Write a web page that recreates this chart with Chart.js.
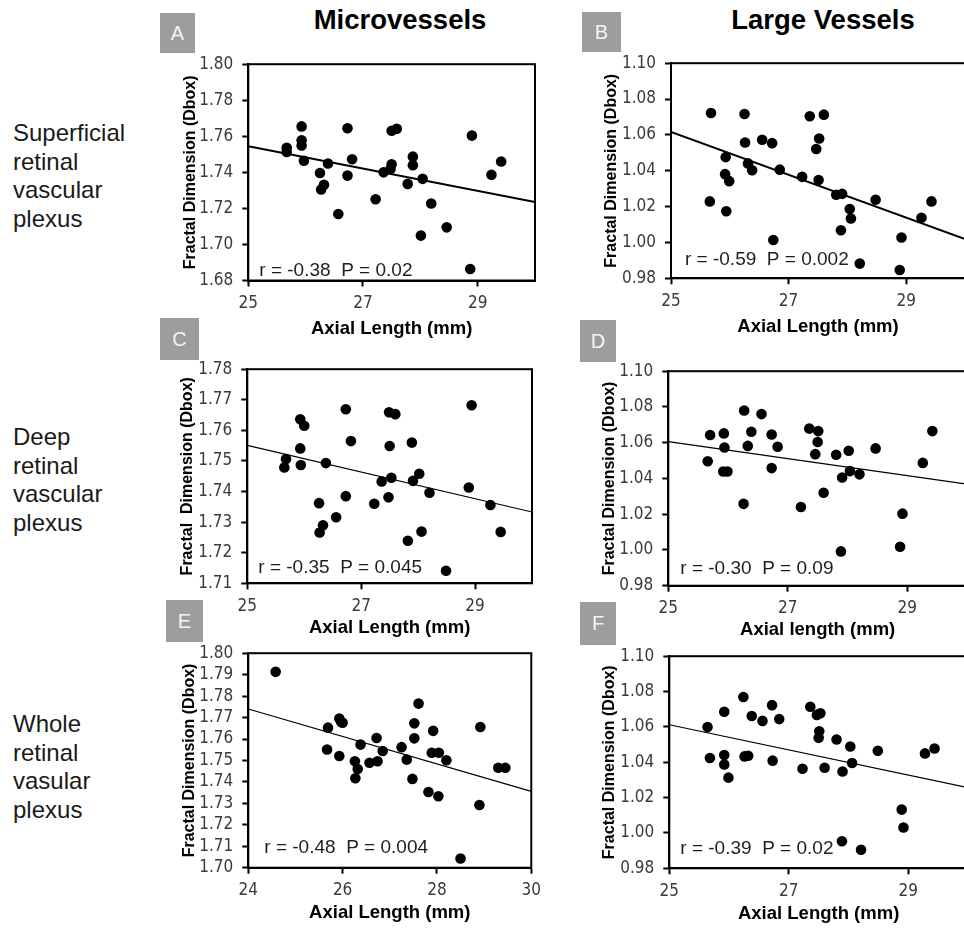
<!DOCTYPE html>
<html><head><meta charset="utf-8">
<script src="https://cdn.jsdelivr.net/npm/chart.js@4.4.0/dist/chart.umd.min.js"></script>
<style>
html,body{margin:0;padding:0;background:#fff;overflow:hidden;width:964px;height:929px;}
body{position:relative;font-family:'Liberation Sans',Arial,sans-serif;}
canvas{position:absolute;}
.rowlab{position:absolute;left:13px;font-size:24px;line-height:28.5px;color:#1a1a1a;white-space:nowrap;}
.coltitle{position:absolute;top:6px;font-weight:bold;font-size:27.5px;line-height:27.5px;color:#000;transform:translateX(-50%);white-space:nowrap;}
.letter{position:absolute;background:#9d9d9d;color:#f4f4f4;font-size:20px;text-align:center;font-family:'Liberation Sans Narrow','Liberation Sans',Arial,sans-serif;}
</style>
</head>
<body>
<div class="coltitle" style="left:400px">Microvessels</div>
<div class="coltitle" style="left:823px">Large Vessels</div>
<div class="rowlab" style="top:119px">Superficial<br>retinal<br>vascular<br>plexus</div>
<div class="rowlab" style="top:423px">Deep<br>retinal<br>vascular<br>plexus</div>
<div class="rowlab" style="top:710px">Whole<br>retinal<br>vasular<br>plexus</div>
<div class="letter" style="left:160px;top:13px;width:35px;height:40px;line-height:40px">A</div>
<div class="letter" style="left:582px;top:12px;width:39px;height:40px;line-height:40px">B</div>
<div class="letter" style="left:160px;top:318px;width:39px;height:42px;line-height:42px">C</div>
<div class="letter" style="left:580px;top:320px;width:36px;height:42px;line-height:42px">D</div>
<div class="letter" style="left:166px;top:600px;width:37px;height:42px;line-height:42px">E</div>
<div class="letter" style="left:580px;top:602px;width:36px;height:43px;line-height:43px">F</div>
<canvas id="cA"></canvas><canvas id="cB"></canvas>
<canvas id="cC"></canvas><canvas id="cD"></canvas>
<canvas id="cE"></canvas><canvas id="cF"></canvas>
<script>
// ---------- DATA ----------
const xA = [25.67,25.67,25.93,25.93,25.93,25.97,26.25,26.27,26.32,26.39,26.57,26.73,26.73,26.81,27.22,27.36,27.50,27.48,27.50,27.59,27.78,27.87,27.87,28.04,28.01,28.19,28.46,28.90,28.87,29.24,29.41];
const yA = [1.7536,1.7513,1.7655,1.7578,1.7549,1.7464,1.7396,1.7305,1.7331,1.7449,1.7169,1.7645,1.7382,1.7473,1.7251,1.7400,1.7445,1.7418,1.7631,1.7642,1.7336,1.7487,1.7440,1.7364,1.7049,1.7227,1.7095,1.7604,1.6864,1.7387,1.7460];
const xB = [25.68,25.66,25.93,25.92,25.99,25.94,26.25,26.26,26.31,26.38,26.55,26.72,26.74,26.85,27.23,27.36,27.60,27.52,27.47,27.51,27.81,27.91,28.04,28.06,27.89,28.21,28.48,28.92,28.89,29.26,29.43];
const yB = [1.0722,1.0229,1.0476,1.0381,1.0342,1.0174,1.0717,1.0558,1.0441,1.0403,1.0573,1.0554,1.0014,1.0406,1.0366,1.0704,1.0713,1.0580,1.0521,1.0348,1.0266,1.0271,1.0187,1.0134,1.0068,0.9882,1.0238,1.0028,0.9846,1.0138,1.0229];
const xC = [25.65,25.68,25.93,26.00,25.93,25.94,26.26,26.27,26.33,26.38,26.56,26.73,26.73,26.82,27.23,27.36,27.49,27.60,27.50,27.53,27.48,27.82,27.89,27.91,28.02,28.06,28.20,28.49,28.89,28.94,29.27,29.45];
const yC = [1.7479,1.7506,1.7636,1.7615,1.7541,1.7487,1.7362,1.7266,1.7290,1.7493,1.7316,1.7669,1.7385,1.7565,1.7360,1.7433,1.7659,1.7653,1.7549,1.7445,1.7381,1.7239,1.7560,1.7435,1.7458,1.7269,1.7396,1.7141,1.7413,1.7682,1.7356,1.7268];
const xD = [25.66,25.70,25.93,25.94,25.92,25.99,26.27,26.33,26.39,26.26,26.56,26.73,26.73,26.83,27.22,27.36,27.51,27.50,27.46,27.60,27.81,27.91,27.89,28.02,28.04,28.20,28.47,28.92,28.88,29.26,29.42];
const yD = [1.0496,1.0643,1.0652,1.0573,1.0439,1.0439,1.0780,1.0582,1.0661,1.0258,1.0760,1.0646,1.0458,1.0577,1.0240,1.0679,1.0665,1.0604,1.0536,1.0320,1.0533,1.0405,0.9992,1.0555,1.0441,1.0423,1.0568,1.0203,1.0018,1.0487,1.0665];
const xE = [24.58,25.69,25.67,25.93,25.97,26.00,25.93,26.38,26.26,26.32,26.27,26.57,26.74,26.72,26.85,27.25,27.36,27.48,27.52,27.52,27.61,27.82,27.92,27.89,28.04,28.03,28.20,28.50,28.90,28.92,29.30,29.45];
const yE = [1.7913,1.7653,1.7551,1.7695,1.7679,1.7676,1.7521,1.7574,1.7496,1.7460,1.7417,1.7489,1.7496,1.7605,1.7544,1.7562,1.7504,1.7414,1.7673,1.7603,1.7765,1.7353,1.7638,1.7536,1.7536,1.7333,1.7501,1.7043,1.7292,1.7656,1.7466,1.7466];
const xF = [25.64,25.68,25.92,25.92,25.92,25.99,26.24,26.26,26.32,26.38,26.56,26.72,26.73,26.84,27.23,27.36,27.47,27.53,27.51,27.50,27.60,27.80,27.90,27.89,28.03,28.06,28.21,28.49,28.89,28.92,29.28,29.44];
const yF = [1.0599,1.0424,1.0686,1.0441,1.0387,1.0313,1.0769,1.0433,1.0437,1.0662,1.0634,1.0723,1.0409,1.0644,1.0363,1.0714,1.0668,1.0677,1.0575,1.0538,1.0369,1.0529,1.0348,0.9953,1.0489,1.0396,0.9905,1.0465,1.0132,1.0031,1.0450,1.0478];

// regression line end values (at x-axis min and max)
const trendA = [1.7545, 1.7236];
const trendB = [1.0616, 1.0019];
const trendC = [1.7551, 1.7333];
const trendD = [1.0606, 1.0368];
const trendE = [1.7740, 1.7356];
const trendF = [1.0612, 1.0256];

// axis ranges and tick labels
const xRange25 = [25, 30];
const xRange24 = [24, 30];
const xTicks25 = [25, 27, 29];
const xTicks24 = [24, 26, 28, 30];
const yRangeA = [1.68, 1.80], yTicksA = [1.68,1.70,1.72,1.74,1.76,1.78,1.80];
const yRangeL = [0.98, 1.10], yTicksL = [0.98,1.00,1.02,1.04,1.06,1.08,1.10];
const yRangeC = [1.71, 1.78], yTicksC = [1.71,1.72,1.73,1.74,1.75,1.76,1.77,1.78];
const yRangeE = [1.70, 1.80], yTicksE = [1.70,1.71,1.72,1.73,1.74,1.75,1.76,1.77,1.78,1.79,1.80];

const statsA = 'r = -0.38  P = 0.02';
const statsB = 'r = -0.59  P = 0.002';
const statsC = 'r = -0.35  P = 0.045';
const statsD = 'r = -0.30  P = 0.09';
const statsE = 'r = -0.48  P = 0.004';
const statsF = 'r = -0.39  P = 0.02';

const yTitle = 'Fractal Dimension (Dbox)';
const yTitleC = 'Fractal  Dimension (Dbox)';
const xTitle = 'Axial Length (mm)';
const xTitleD = 'Axial length (mm)';

// ---------- LAYOUT (page pixels) ----------
const TICKFONT = "'Liberation Sans Narrow','DejaVu Sans Condensed','Liberation Sans',Arial,sans-serif";
const MAINFONT = "'Liberation Sans',Arial,sans-serif";
const YT_SIZE = 16, XT_SIZE = 18.5;

const panels = [
  {id:'cA', xs:xA, ys:yA, trend:trendA, xr:xRange25, xt:xTicks25, yr:yRangeA, yt:yTicksA, stats:statsA, yTitle:yTitle, xTitle:xTitle,
   geo:{left:248.3, right:534.5, top:60, bottom:280.5, yTitleX:191, xTitleBase:335, sx:11, sy:4.5, lw:2}},
  {id:'cB', xs:xB, ys:yB, trend:trendB, xr:xRange25, xt:xTicks25, yr:yRangeL, yt:yTicksL, stats:statsB, yTitle:yTitle, xTitle:xTitle,
   geo:{left:671, right:965, top:59.3, bottom:278.3, yTitleX:612, xTitleBase:333, sx:14, sy:13.5, lw:2}},
  {id:'cC', xs:xC, ys:yC, trend:trendC, xr:xRange25, xt:xTicks25, yr:yRangeC, yt:yTicksC, stats:statsC, yTitle:yTitleC, xTitle:xTitle,
   geo:{left:247.3, right:532.3, top:365, bottom:583.3, yTitleX:188, xTitleBase:634.5, sx:11, sy:10.5, lw:1.2}},
  {id:'cD', xs:xD, ys:yD, trend:trendD, xr:xRange25, xt:xTicks25, yr:yRangeL, yt:yTicksL, stats:statsD, yTitle:yTitle, xTitle:xTitleD,
   geo:{left:668.3, right:967, top:367.3, bottom:585.7, yTitleX:610, xTitleBase:636, sx:12, sy:12, lw:1.2}},
  {id:'cE', xs:xE, ys:yE, trend:trendE, xr:xRange24, xt:xTicks24, yr:yRangeE, yt:yTicksE, stats:statsE, yTitle:yTitle, xTitle:xTitle,
   geo:{left:248.3, right:532.7, top:649.3, bottom:867.7, yTitleX:190, xTitleBase:919, sx:16, sy:15, lw:1.2}},
  {id:'cF', xs:xF, ys:yF, trend:trendF, xr:xRange25, xt:xTicks25, yr:yRangeL, yt:yTicksL, stats:statsF, yTitle:yTitle, xTitle:xTitle,
   geo:{left:669.3, right:968, top:651.7, bottom:868.3, yTitleX:610, xTitleBase:920, sx:11, sy:14, lw:1.2}}
];

const framePlugin = {
  id:'frame',
  beforeDatasetsDraw(chart){
    const {ctx, chartArea:a} = chart;
    ctx.save(); ctx.strokeStyle='#000'; ctx.lineWidth=2;
    ctx.strokeRect(a.left, a.top, a.right-a.left, a.bottom-a.top);
    ctx.restore();
  }
};
const statsPlugin = {
  id:'stats',
  afterDatasetsDraw(chart, args, opts){
    const {ctx, chartArea:a} = chart;
    ctx.save();
    ctx.font = '19px ' + MAINFONT;
    ctx.fillStyle = '#1e1e1e';
    ctx.textBaseline = 'alphabetic';
    ctx.textAlign = 'left';
    ctx.fillText(opts.text, a.left + opts.dx, a.bottom - opts.dy);
    ctx.restore();
  }
};

panels.forEach(p => {
  const g = p.geo;
  const padTop = 15, padRight = 15;
  const canvasLeft = Math.round(g.yTitleX - YT_SIZE*1.2/2);
  const yW = g.left - canvasLeft;
  const canvasTop = Math.round(g.top - padTop);
  const realPadTop = g.top - canvasTop;
  const xTitleMid = g.xTitleBase - 0.3465*XT_SIZE;
  const canvasBottom = Math.round(xTitleMid + XT_SIZE*1.2/2);
  const xH = canvasBottom - g.bottom;
  const W = Math.round(g.right + padRight - canvasLeft);
  const H = canvasBottom - canvasTop;
  const cv = document.getElementById(p.id);
  cv.width = W; cv.height = H;
  cv.style.left = canvasLeft + 'px'; cv.style.top = canvasTop + 'px';
  cv.style.width = W + 'px'; cv.style.height = H + 'px';

  const pts = p.xs.map((x,i)=>({x:x, y:p.ys[i]}));
  const line = [{x:p.xr[0], y:p.trend[0]}, {x:p.xr[1], y:p.trend[1]}];

  new Chart(cv, {
    type:'scatter',
    data:{datasets:[
      {type:'line', data:line, borderColor:'#000', borderWidth:g.lw, pointRadius:0, fill:false, order:2},
      {type:'scatter', data:pts, backgroundColor:'#000', borderColor:'#000', borderWidth:0, pointRadius:5.3, pointHoverRadius:5.3, clip:false, order:1}
    ]},
    options:{
      responsive:false, animation:false, devicePixelRatio:1,
      layout:{padding:{top:realPadTop, right:padRight, left:0, bottom:0}},
      plugins:{legend:{display:false}, tooltip:{enabled:false}, stats:{text:p.stats, dx:g.sx, dy:g.sy}},
      scales:{
        x:{type:'linear', min:p.xr[0], max:p.xr[1],
           afterBuildTicks:s=>{ s.ticks = p.xt.map(v=>({value:v})); },
           afterFit:s=>{ s.height = xH; },
           border:{display:true, color:'#000', width:2},
           grid:{display:true, drawOnChartArea:false, drawTicks:true, tickLength:6, tickWidth:2, tickColor:'#000', color:'#000'},
           ticks:{font:{family:TICKFONT, size:17}, color:'#3a3a3a', padding:7, maxRotation:0, autoSkip:false, callback:v=>String(v)},
           title:{display:true, text:p.xTitle, color:'#000', font:{family:MAINFONT, size:XT_SIZE, weight:'bold'}, padding:{top:0,bottom:0}}
        },
        y:{type:'linear', min:p.yr[0], max:p.yr[1],
           afterBuildTicks:s=>{ s.ticks = p.yt.map(v=>({value:v})); },
           afterFit:s=>{ s.width = yW; },
           border:{display:true, color:'#000', width:2},
           grid:{display:true, drawOnChartArea:false, drawTicks:true, tickLength:6, tickWidth:2, tickColor:'#000', color:'#000'},
           ticks:{font:{family:TICKFONT, size:17}, color:'#3a3a3a', padding:9, autoSkip:false, callback:v=>Number(v).toFixed(2)},
           title:{display:true, text:p.yTitle, color:'#000', font:{family:MAINFONT, size:YT_SIZE, weight:'bold'}, padding:{top:0,bottom:0}}
        }
      }
    },
    plugins:[framePlugin, statsPlugin]
  });
});
</script>
</body></html>
